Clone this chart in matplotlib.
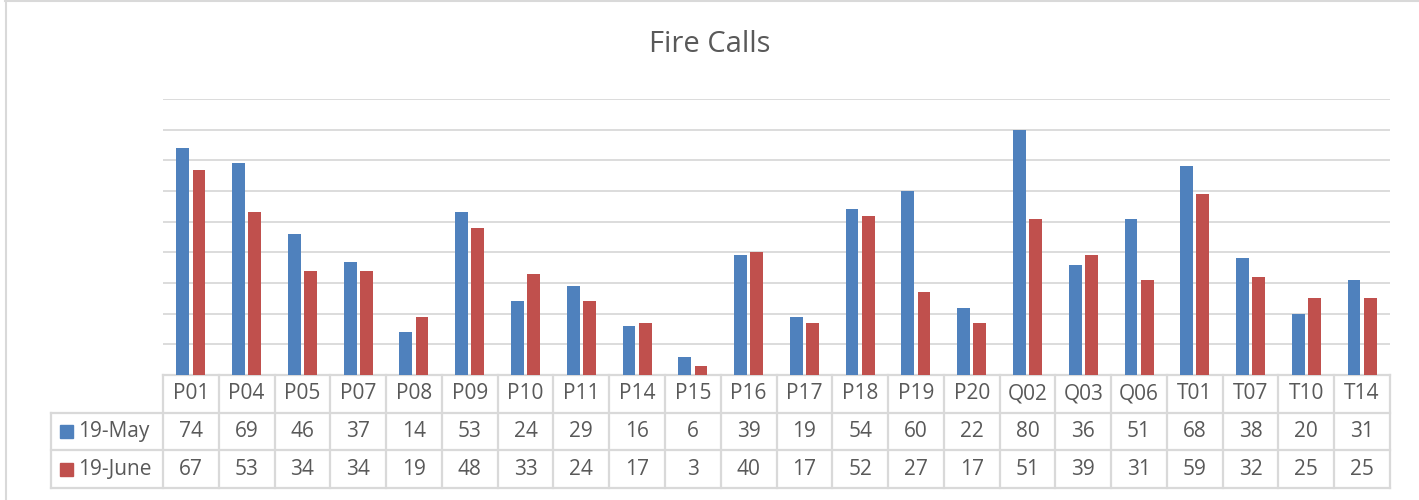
import matplotlib.pyplot as plt
from matplotlib.lines import Line2D
from matplotlib.patches import Rectangle
from matplotlib.transforms import blended_transform_factory
import numpy as np

stations = ["P01", "P04", "P05", "P07", "P08", "P09", "P10", "P11", "P14", "P15", "P16",
            "P17", "P18", "P19", "P20", "Q02", "Q03", "Q06", "T01", "T07", "T10", "T14"]
may = [74, 69, 46, 37, 14, 53, 24, 29, 16, 6, 39, 19, 54, 60, 22, 80, 36, 51, 68, 38, 20, 31]
june = [67, 53, 34, 34, 19, 48, 33, 24, 17, 3, 40, 17, 52, 27, 17, 51, 39, 31, 59, 32, 25, 25]
series_names = ["19-May", "19-June"]

blue = "#4F81BD"
red = "#C0504D"
txt = "#595959"
grid_c = "#D9D9D9"
plt.rcParams['font.family'] = ['Open Sans', 'DejaVu Sans']

W, H = 1419, 500
fig = plt.figure(figsize=(W / 100, H / 100), dpi=100)

# plot area in pixels
x0, x1 = 163, 1390
y_top, y_bot = 99, 375
ax = fig.add_axes([x0 / W, 1 - y_bot / H, (x1 - x0) / W, (y_bot - y_top) / H])

x = np.arange(len(stations))
bw = 0.23
ax.bar(x - 0.145, may, bw, color=blue, zorder=3)
ax.bar(x + 0.145, june, bw, color=red, zorder=3)

ax.set_xlim(-0.5, len(stations) - 0.5)
ax.set_ylim(0, 90)
ax.set_yticks(range(10, 91, 10))
ax.yaxis.grid(True, color=grid_c, linewidth=1.3, zorder=0)
ax.tick_params(left=False, bottom=False, labelleft=False, labelbottom=False)
for s in ax.spines.values():
    s.set_visible(False)

fig.text(0.5, 1 - 44 / H, "Fire Calls", ha="center", va="center", fontsize=21, color=txt)

# data table below the axis
row_h = 37.7 / (y_bot - y_top)
tr = blended_transform_factory(ax.transData, ax.transAxes)
leg_left = -0.5 - (x0 - 51) / ((x1 - x0) / len(stations))
n = len(stations)
lkw = dict(color=grid_c, linewidth=1.6, transform=tr, clip_on=False)

# horizontal lines
ax.add_line(Line2D([-0.5, n - 0.5], [0, 0], **lkw))
for k in range(1, 4):
    ax.add_line(Line2D([leg_left, n - 0.5], [-k * row_h] * 2, **lkw))
# vertical lines
for i in range(n + 1):
    ax.add_line(Line2D([i - 0.5, i - 0.5], [0, -3 * row_h], **lkw))
ax.add_line(Line2D([leg_left, leg_left], [-row_h, -3 * row_h], **lkw))

fs = 15
for i, s in enumerate(stations):
    ax.text(i, -0.5 * row_h, s, transform=tr, ha="center", va="center", fontsize=fs, color=txt)
    ax.text(i, -1.5 * row_h, str(may[i]), transform=tr, ha="center", va="center", fontsize=fs, color=txt)
    ax.text(i, -2.5 * row_h, str(june[i]), transform=tr, ha="center", va="center", fontsize=fs, color=txt)

# legend keys in table
px = 1 / ((x1 - x0) / n)
for r, (name, c) in enumerate(zip(series_names, [blue, red])):
    yc = -(1.5 + r) * row_h
    sq = 13 / (y_bot - y_top)
    ax.add_patch(Rectangle((leg_left + 9 * px, yc - sq / 2), 13 * px, sq, color=c,
                           transform=tr, clip_on=False))
    ax.text(leg_left + 27 * px, yc, name, transform=tr, ha="left", va="center",
            fontsize=fs, color=txt)

# chart border
fig.add_artist(Line2D([5 / W, 1], [1 - 0.5 / H, 1 - 0.5 / H], color=grid_c, linewidth=1.5))
fig.add_artist(Line2D([6 / W, 6 / W], [0, 1], color=grid_c, linewidth=1.5))

fig.savefig("out.png", dpi=100)
